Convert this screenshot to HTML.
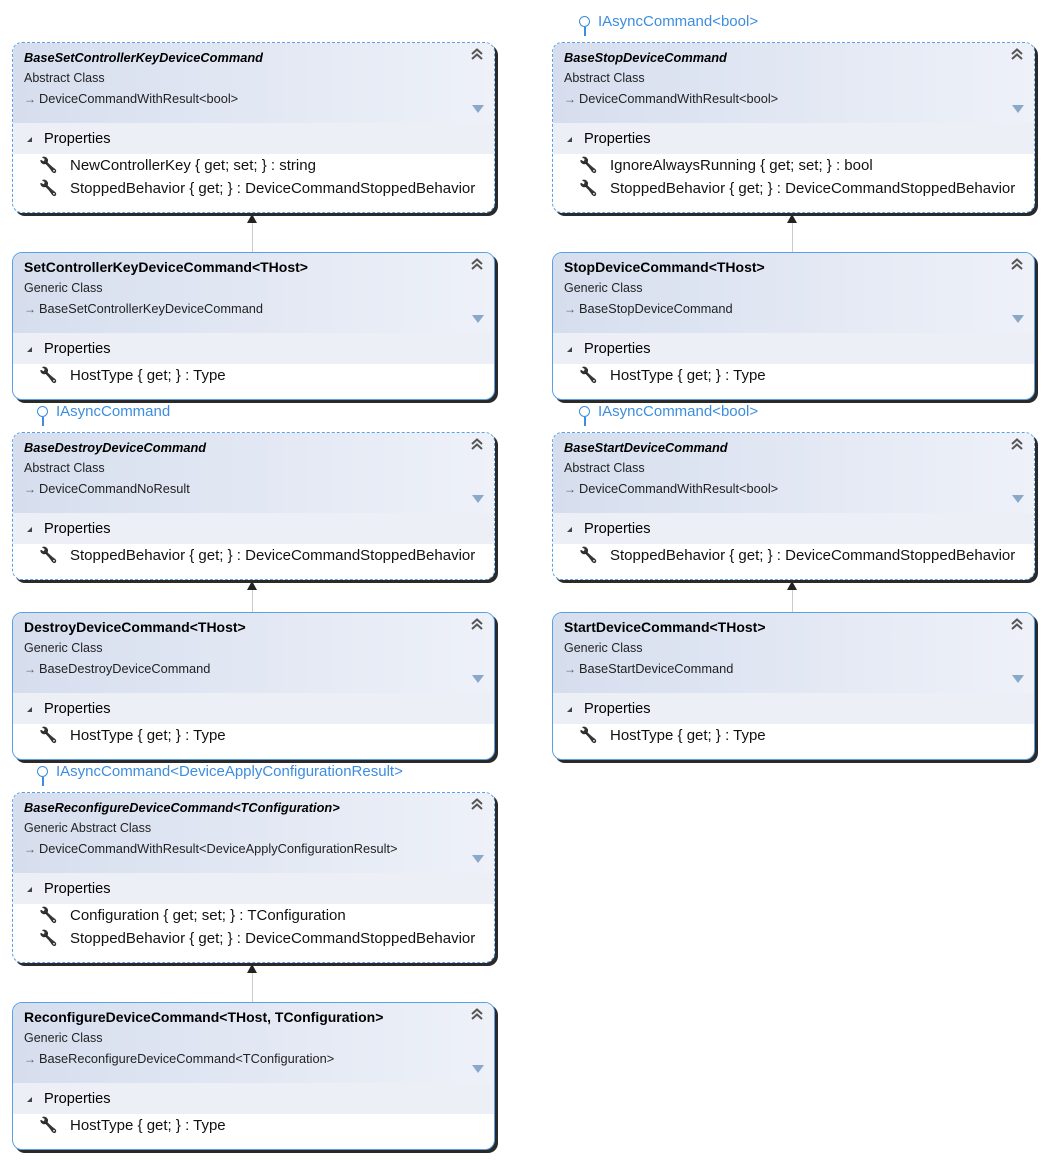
<!DOCTYPE html>
<html><head><meta charset="utf-8"><style>
body{margin:0;width:1044px;height:1160px;background:#fff;position:relative;font-family:"Liberation Sans","DejaVu Sans",sans-serif;overflow:hidden}
.b{position:absolute;width:481px;border:1px solid #5aa0e6;border-radius:10px;box-shadow:3px 3px 0 #2a2a2a;background:#fff;overflow:hidden}
.b.d{border-style:dashed}
.h{height:80px;background:linear-gradient(to right,#d6deee,#eef1f8);position:relative}
.t{position:absolute;left:11px;top:6px;font-size:14px;font-weight:bold;color:#000;white-space:nowrap}
.t.i{font-style:italic;font-size:12.8px;top:7px}
.s{position:absolute;left:11px;top:28px;font-size:12.5px;color:#222}
.bs{position:absolute;left:11px;top:48px;font-size:12.8px;color:#222;white-space:nowrap}
.bs:before{content:"\2192";font-size:12px;margin-right:3px;color:#555}
.c{position:absolute;right:11px;top:5px;width:12px;height:12px}
.f{position:absolute;right:10px;top:62px;width:0;height:0;border-left:6px solid transparent;border-right:6px solid transparent;border-top:8px solid #8aa8c8}
.p{height:31px;background:#eceff5;position:relative;font-size:14.6px;line-height:32px;padding-left:31px}
.p:before{content:"";position:absolute;left:14px;top:14px;border-left:5px solid transparent;border-bottom:5px solid #444}
.it{height:23px;line-height:24px;font-size:15px;padding-left:57px;position:relative;color:#111;white-space:nowrap}
.it:before{content:"\1F527";position:absolute;left:26px;font-size:15px;color:#000;filter:grayscale(1) brightness(0.3)}
.lol{position:absolute;font-size:15px;color:#3c8de0}
.lol i{position:absolute;left:-1px;top:3px;width:11px;height:11px;border:1.5px solid #3c8de0;border-radius:50%;box-sizing:border-box}
.lol b{position:absolute;left:4px;top:14px;width:1.5px;height:9px;background:#3c8de0}
.lol span{position:absolute;left:18px;top:0;white-space:nowrap}
.ln{position:absolute;width:1px;background:#ccc}
.ar{position:absolute;width:0;height:0;border-left:5px solid transparent;border-right:5px solid transparent;border-bottom:9px solid #222}
</style></head><body>
<svg width="0" height="0" style="position:absolute"><defs><symbol id="cv" viewBox="0 0 12 12"><path d="M1 6 L6 1.5 L11 6 M1 11 L6 6.5 L11 11" fill="none" stroke="#555" stroke-width="2"/></symbol></defs></svg>

<div class="lol" style="left:580px;top:13px"><i></i><b></b><span>IAsyncCommand&lt;bool&gt;</span></div>
<div class="lol" style="left:38px;top:403px"><i></i><b></b><span>IAsyncCommand</span></div>
<div class="lol" style="left:580px;top:403px"><i></i><b></b><span>IAsyncCommand&lt;bool&gt;</span></div>
<div class="lol" style="left:38px;top:763px"><i></i><b></b><span>IAsyncCommand&lt;DeviceApplyConfigurationResult&gt;</span></div>

<div class="ln" style="left:252px;top:222px;height:30px"></div><div class="ar" style="left:247px;top:214px"></div>
<div class="ln" style="left:792px;top:222px;height:30px"></div><div class="ar" style="left:787px;top:214px"></div>
<div class="ln" style="left:252px;top:590px;height:22px"></div><div class="ar" style="left:247px;top:581px"></div>
<div class="ln" style="left:792px;top:590px;height:22px"></div><div class="ar" style="left:787px;top:581px"></div>
<div class="ln" style="left:252px;top:973px;height:29px"></div><div class="ar" style="left:247px;top:964px"></div>

<div class="b d" style="left:12px;top:42px;height:169px"><div class="h"><div class="t i">BaseSetControllerKeyDeviceCommand</div><div class="s">Abstract Class</div><div class="bs">DeviceCommandWithResult&lt;bool&gt;</div><svg class="c"><use href="#cv"/></svg><div class="f"></div></div><div class="p">Properties</div><div class="it">NewControllerKey { get; set; } : string</div><div class="it">StoppedBehavior { get; } : DeviceCommandStoppedBehavior</div></div>

<div class="b d" style="left:552px;top:42px;height:169px"><div class="h"><div class="t i">BaseStopDeviceCommand</div><div class="s">Abstract Class</div><div class="bs">DeviceCommandWithResult&lt;bool&gt;</div><svg class="c"><use href="#cv"/></svg><div class="f"></div></div><div class="p">Properties</div><div class="it">IgnoreAlwaysRunning { get; set; } : bool</div><div class="it">StoppedBehavior { get; } : DeviceCommandStoppedBehavior</div></div>

<div class="b" style="left:12px;top:252px;height:146px"><div class="h"><div class="t">SetControllerKeyDeviceCommand&lt;THost&gt;</div><div class="s">Generic Class</div><div class="bs">BaseSetControllerKeyDeviceCommand</div><svg class="c"><use href="#cv"/></svg><div class="f"></div></div><div class="p">Properties</div><div class="it">HostType { get; } : Type</div></div>

<div class="b" style="left:552px;top:252px;height:146px"><div class="h"><div class="t">StopDeviceCommand&lt;THost&gt;</div><div class="s">Generic Class</div><div class="bs">BaseStopDeviceCommand</div><svg class="c"><use href="#cv"/></svg><div class="f"></div></div><div class="p">Properties</div><div class="it">HostType { get; } : Type</div></div>

<div class="b d" style="left:12px;top:432px;height:146px"><div class="h"><div class="t i">BaseDestroyDeviceCommand</div><div class="s">Abstract Class</div><div class="bs">DeviceCommandNoResult</div><svg class="c"><use href="#cv"/></svg><div class="f"></div></div><div class="p">Properties</div><div class="it">StoppedBehavior { get; } : DeviceCommandStoppedBehavior</div></div>

<div class="b d" style="left:552px;top:432px;height:146px"><div class="h"><div class="t i">BaseStartDeviceCommand</div><div class="s">Abstract Class</div><div class="bs">DeviceCommandWithResult&lt;bool&gt;</div><svg class="c"><use href="#cv"/></svg><div class="f"></div></div><div class="p">Properties</div><div class="it">StoppedBehavior { get; } : DeviceCommandStoppedBehavior</div></div>

<div class="b" style="left:12px;top:612px;height:146px"><div class="h"><div class="t">DestroyDeviceCommand&lt;THost&gt;</div><div class="s">Generic Class</div><div class="bs">BaseDestroyDeviceCommand</div><svg class="c"><use href="#cv"/></svg><div class="f"></div></div><div class="p">Properties</div><div class="it">HostType { get; } : Type</div></div>

<div class="b" style="left:552px;top:612px;height:146px"><div class="h"><div class="t">StartDeviceCommand&lt;THost&gt;</div><div class="s">Generic Class</div><div class="bs">BaseStartDeviceCommand</div><svg class="c"><use href="#cv"/></svg><div class="f"></div></div><div class="p">Properties</div><div class="it">HostType { get; } : Type</div></div>

<div class="b d" style="left:12px;top:792px;height:169px"><div class="h"><div class="t i">BaseReconfigureDeviceCommand&lt;TConfiguration&gt;</div><div class="s">Generic Abstract Class</div><div class="bs">DeviceCommandWithResult&lt;DeviceApplyConfigurationResult&gt;</div><svg class="c"><use href="#cv"/></svg><div class="f"></div></div><div class="p">Properties</div><div class="it">Configuration { get; set; } : TConfiguration</div><div class="it">StoppedBehavior { get; } : DeviceCommandStoppedBehavior</div></div>

<div class="b" style="left:12px;top:1002px;height:146px"><div class="h"><div class="t">ReconfigureDeviceCommand&lt;THost, TConfiguration&gt;</div><div class="s">Generic Class</div><div class="bs">BaseReconfigureDeviceCommand&lt;TConfiguration&gt;</div><svg class="c"><use href="#cv"/></svg><div class="f"></div></div><div class="p">Properties</div><div class="it">HostType { get; } : Type</div></div>

</body></html>
